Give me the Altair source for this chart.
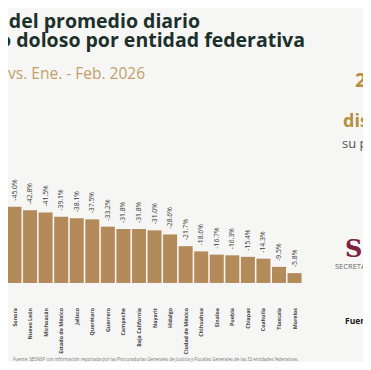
import altair as alt
import pandas as pd

estados = ["Sonora", "Nuevo León", "Michoacán", "Estado de México", "Jalisco",
           "Querétaro", "Guerrero", "Campeche", "Baja California", "Nayarit",
           "Hidalgo", "Ciudad de México", "Chihuahua", "Sinaloa", "Puebla",
           "Chiapas", "Coahuila", "Tlaxcala", "Morelos"]
cambios = [-45.0, -42.8, -41.5, -39.1, -38.1, -37.5, -33.2, -31.8, -31.8, -31.0,
           -28.6, -21.7, -18.6, -16.7, -16.3, -15.4, -14.3, -9.5, -5.8]

df = pd.DataFrame({
    "estado": estados,
    "cambio": cambios,
    "idx": list(range(len(estados))),
})
df["altura"] = df["cambio"].abs()
df["x0"] = df["idx"] - 0.45
df["x1"] = df["idx"] + 0.45
df["etiqueta"] = df["cambio"].map(lambda v: f"{v:.1f}%")

W, H = 355, 354
xs = alt.Scale(domain=[-0.418, 22.40], nice=False, zero=False)
ys = alt.Scale(domain=[-46.6, 162.1], nice=False, zero=False)
noax = None

base = alt.Chart(df)
bars = base.mark_bar(color="#b38a5a").encode(
    x=alt.X("x0:Q", scale=xs, axis=noax),
    x2="x1:Q",
    y=alt.Y("altura:Q", scale=ys, axis=noax),
    y2=alt.datum(0),
)
vals = base.mark_text(angle=270, align="left", baseline="middle", dx=6,
                      fontSize=6.8, font="Open Sans", color="#3c3c3c").encode(
    x=alt.X("idx:Q", scale=xs, axis=noax),
    y=alt.Y("altura:Q", scale=ys, axis=noax),
    text="etiqueta:N",
)
cats = base.mark_text(angle=270, align="right", baseline="middle",
                      fontSize=5.3, font="Open Sans", fontWeight="bold",
                      color="#444444").encode(
    x=alt.X("idx:Q", scale=xs, axis=noax),
    y=alt.value(300),
    text="estado:N",
)

one = pd.DataFrame({"a": [0]})

def note(text, x, y, size, color, weight="normal", align="left", font="Open Sans"):
    return alt.Chart(one).mark_text(
        text=text, align=align, baseline="alphabetic", fontSize=size,
        fontWeight=weight, color=color, font=font,
    ).encode(x=alt.value(x), y=alt.value(y))

texts = [
    note("Disminución del promedio diario", 192, 19.5, 19.5, "#1c302c", "bold", "right"),
    note("de homicidio doloso por entidad federativa", 297, 39, 19.5, "#1c302c", "bold", "right"),
    note("Ene. - Feb. 2025 vs. Ene. - Feb. 2026", 137, 71, 15.5, "#c2a06a", "normal", "right"),
    note("26 entidades", 347, 79, 20, "#b58f3f", "bold"),
    note("federativas", 356, 97, 12, "#555555"),
    note("disminución", 335, 119, 18, "#b58f3f", "bold"),
    note("su promedio", 334, 140, 13, "#555555"),
    note("SESNSP", 337, 249, 24, "#7b2341", "bold", font="DejaVu Serif"),
    note("SECRETARIADO EJECUTIVO", 327, 261, 7.5, "#666666"),
    note("Fuente: SESNSP", 337, 316, 8.5, "#1a1a1a", "bold"),
    note("Fuente: SESNSP con información reportada por las Procuradurías Generales de Justicia y Fiscalías Generales de las 32 entidades federativas.",
         5, 353, 4.4, "#777777"),
]

chart = alt.layer(bars, vals, cats, *texts).properties(
    width=W, height=H,
    autosize=alt.AutoSizeParams(type="none"),
    padding=0,
    background="#f6f6f4",
).configure_view(stroke=None)

chart.save("out.html", embed_options={"renderer": "svg", "actions": False})
